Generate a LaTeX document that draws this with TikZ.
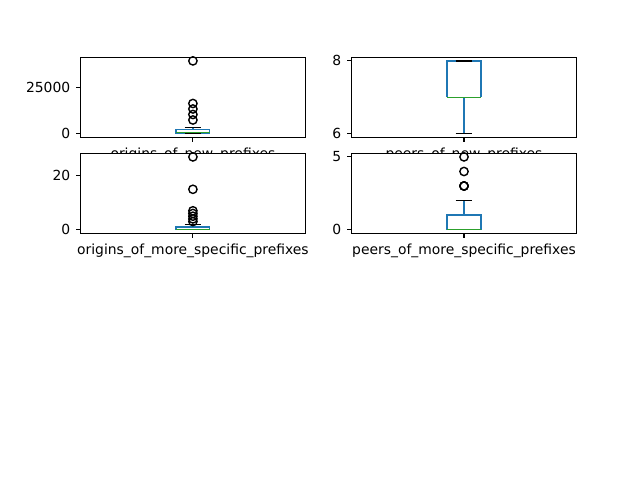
\documentclass[tikz,border=0pt]{standalone}
\usepackage{fontspec}
\setmainfont{DejaVu Sans}
\definecolor{mplblue}{HTML}{1F77B4}
\definecolor{mplgreen}{HTML}{2CA02C}
\begin{document}
\begin{tikzpicture}[x=0.72pt,y=-0.72pt,
  frame/.style={line width=0.8pt, line join=miter},
  tickmark/.style={line width=0.8pt},
  boxl/.style={line width=1pt, draw=mplblue},
  medl/.style={line width=1pt, draw=mplgreen},
  capl/.style={line width=1pt, draw=black},
  flier/.style={line width=1pt, draw=black},
  ylab/.style={anchor=east, inner sep=0pt, text height=0.73em, text depth=0pt, font=\fontsize{10}{12}\selectfont},
  xlab/.style={anchor=north, inner sep=0pt, text height=0.76em, text depth=0.24em, font=\fontsize{10}{12}\selectfont}
]
\useasboundingbox (0,0) rectangle (640,478);
\fill[white] (0,0) rectangle (640,478);

% ---------- A1: origins_of_new_prefixes ----------
\fill[white] (80.5,57.5) rectangle (305.5,137.5);
\draw[boxl] (176,133.7) rectangle (209.8,129.5);
\draw[boxl] (192.9,129.5) -- (192.9,127.5);
\draw[capl] (184.5,127.5) -- (201.3,127.5);
\draw[capl] (184.5,133.7) -- (201.3,133.7);
\draw[medl] (176,132.7) -- (209.8,132.7);
\foreach \yy in {60.9,103.5,109,114.5,120}
  \draw[flier] (192.9,\yy) circle[radius=3pt];
\draw[frame] (80.5,57.5) rectangle (305.5,137.5);
\draw[tickmark] (80.5,133.7) -- ++(-4.86,0) node[ylab, xshift=-3.5pt] (a1t0) {0};
\draw[tickmark] (80.5,87.6) -- ++(-4.86,0) node[ylab, xshift=-3.5pt] (a1t1) {25000};
\draw[tickmark] (192.9,137.5) -- ++(0,4.86);
\node[xlab] (a1x) at (192.9,147.2) {origins\_of\_new\_prefixes};

% ---------- A2: peers_of_new_prefixes ----------
\fill[white] (351.5,57.5) rectangle (576.5,137.5);
\draw[boxl] (447.1,97.3) -- (447.1,60.9) -- (480.9,60.9) -- (480.9,97.3);
\draw[boxl] (464,97.3) -- (464,133.7);
\draw[capl] (455.6,133.7) -- (472.4,133.7);
\draw[capl] (455.6,60.9) -- (472.4,60.9);
\draw[medl] (447.1,97.3) -- (480.9,97.3);
\draw[frame] (351.5,57.5) rectangle (576.5,137.5);
\draw[tickmark] (351.5,133.7) -- ++(-4.86,0) node[ylab, xshift=-3.5pt] (a2t0) {6};
\draw[tickmark] (351.5,60.9) -- ++(-4.86,0) node[ylab, xshift=-3.5pt] (a2t1) {8};
\draw[tickmark] (464,137.5) -- ++(0,4.86);
\node[xlab] (a2x) at (464,147.2) {peers\_of\_new\_prefixes};

% ---------- A3: origins_of_more_specific_prefixes ----------
\fill[white] (80.5,153.5) rectangle (305.5,233.5);
\draw[boxl] (176,229.7) -- (176,227) -- (209.8,227) -- (209.8,229.7);
\draw[boxl] (192.9,227) -- (192.9,224.3);
\draw[capl] (184.5,224.3) -- (201.3,224.3);
\draw[medl] (176,229.7) -- (209.8,229.7);
\foreach \yy in {156.9,189.3,210.8,213.5,216.2,218.9,221.6}
  \draw[flier] (192.9,\yy) circle[radius=3pt];
\draw[frame] (80.5,153.5) rectangle (305.5,233.5);
\draw[tickmark] (80.5,229.7) -- ++(-4.86,0) node[ylab, xshift=-3.5pt] (a3t0) {0};
\draw[tickmark] (80.5,175.8) -- ++(-4.86,0) node[ylab, xshift=-3.5pt] (a3t1) {20};
\draw[tickmark] (192.9,233.5) -- ++(0,4.86);
\node[xlab] (a3x) at (192.9,243.2) {origins\_of\_more\_specific\_prefixes};

% ---------- A4: peers_of_more_specific_prefixes ----------
\fill[white] (351.5,153.5) rectangle (576.5,233.5);
\draw[boxl] (447.1,229.7) -- (447.1,215.1) -- (480.9,215.1) -- (480.9,229.7);
\draw[boxl] (464,215.1) -- (464,200.6);
\draw[capl] (455.6,200.6) -- (472.4,200.6);
\draw[medl] (447.1,229.7) -- (480.9,229.7);
\foreach \yy in {156.9,171.5,186,186,186}
  \draw[flier] (464,\yy) circle[radius=3pt];
\draw[frame] (351.5,153.5) rectangle (576.5,233.5);
\draw[tickmark] (351.5,229.7) -- ++(-4.86,0) node[ylab, xshift=-3.5pt] (a4t0) {0};
\draw[tickmark] (351.5,156.9) -- ++(-4.86,0) node[ylab, xshift=-3.5pt] (a4t1) {5};
\draw[tickmark] (464,233.5) -- ++(0,4.86);
\node[xlab] (a4x) at (464,243.2) {peers\_of\_more\_specific\_prefixes};
\end{tikzpicture}
\end{document}
